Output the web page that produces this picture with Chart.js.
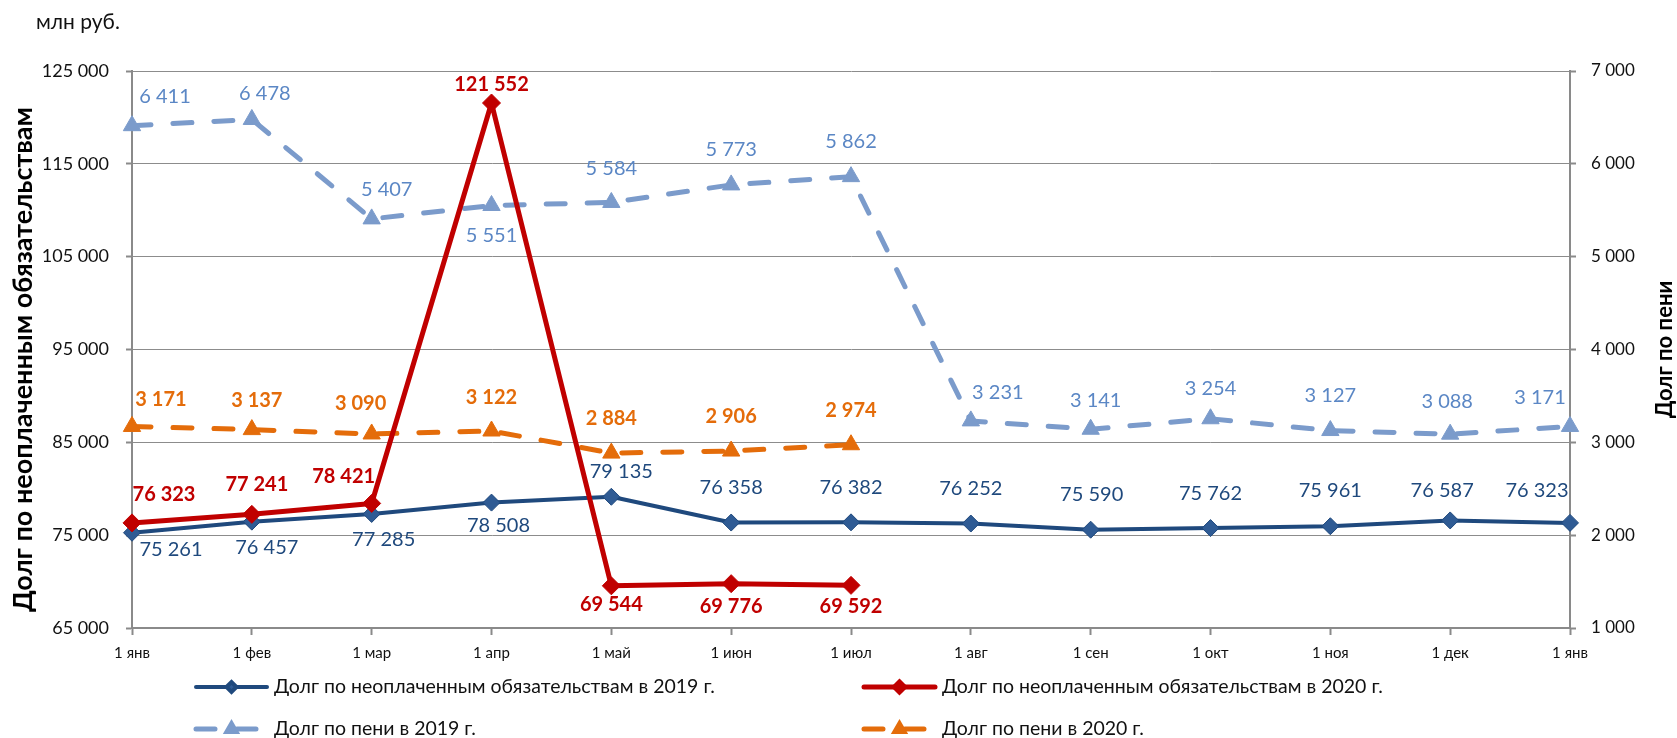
<!DOCTYPE html>
<html lang="ru">
<head>
<meta charset="utf-8">
<title>Долг по неоплаченным обязательствам и пени</title>
<script src="https://cdn.jsdelivr.net/npm/chart.js@4.4.1/dist/chart.umd.min.js"></script>
<style>
  html, body { margin: 0; padding: 0; background: #fff; }
  #wrap { position: relative; width: 1677px; height: 738px; }
  canvas { display: block; }
</style>
</head>
<body>
<div id="wrap"><canvas id="debtChart" width="1677" height="738"></canvas></div>
<script>
/* Долг по неоплаченным обязательствам и пени, 2019–2020 */
const months = ['1 янв', '1 фев', '1 мар', '1 апр', '1 май', '1 июн', '1 июл',
                '1 авг', '1 сен', '1 окт', '1 ноя', '1 дек', '1 янв'];

const debt2019 = [75261, 76457, 77285, 78508, 79135, 76358, 76382, 76252, 75590, 75762, 75961, 76587, 76323];
const debt2020 = [76323, 77241, 78421, 121552, 69544, 69776, 69592];
const peni2019 = [6411, 6478, 5407, 5551, 5584, 5773, 5862, 3231, 3141, 3254, 3127, 3088, 3171];
const peni2020 = [3171, 3137, 3090, 3122, 2884, 2906, 2974];

const leftTicks = [65000, 75000, 85000, 95000, 105000, 115000, 125000];
const rightTicks = [1000, 2000, 3000, 4000, 5000, 6000, 7000];

// label offsets from the point, px (layout only)
const debt2019Lbl = [[39, 17], [15, 26], [12, 26], [7, 23], [10, -25], [0, -35], [0, -35],
                     [0, -35], [1, -35], [0, -35], [0, -36], [-8, -30], [-33, -32]];
const debt2020Lbl = [[32, -28], [5, -30], [-28, -27], [0, -18], [0, 19], [0, 23], [0, 21]];
const peni2019Lbl = [[33, -29], [13, -26], [15, -29], [0, 30], [0, -34], [0, -35], [0, -35],
                     [27, -28], [5, -29], [0, -30], [0, -35], [-3, -33], [-30, -29]];
const peni2020Lbl = [[29, -27], [5, -29], [-11, -30], [0, -33], [0, -35], [0, -35], [0, -34]];

const fmt = v => String(v).replace(/\B(?=(\d{3})+(?!\d))/g, ' ');
const FONT = 'Lato, "Open Sans", sans-serif';

// ── data labels ──────────────────────────────────────────────
const pointLabels = {
  id: 'pointLabels',
  afterDatasetsDraw(chart) {
    const ctx = chart.ctx;
    chart.data.datasets.forEach((ds, di) => {
      const meta = chart.getDatasetMeta(di);
      ctx.save();
      ctx.font = (ds.labelBold ? 'bold ' : '') + '20px ' + FONT;
      ctx.fillStyle = ds.labelColor;
      ctx.textAlign = 'center';
      ctx.textBaseline = 'middle';
      meta.data.forEach((pt, i) => {
        const off = ds.labelOffsets[i] || [0, -30];
        ctx.fillText(fmt(ds.data[i]), pt.x + off[0], pt.y + off[1]);
      });
      ctx.restore();
    });
  }
};

// ── two-column legend + axis titles ──────────────────────────
const legendSlots = [
  { index: 0, x: 196, y: 687 },
  { index: 1, x: 864, y: 687 },
  { index: 2, x: 196, y: 729 },
  { index: 3, x: 864, y: 729 },
];

const extras = {
  id: 'extras',
  afterDraw(chart) {
    const ctx = chart.ctx;
    const area = chart.chartArea;

    legendSlots.forEach(slot => {
      const ds = chart.data.datasets[slot.index];
      ctx.save();
      ctx.strokeStyle = ds.borderColor;
      ctx.lineWidth = ds.borderWidth;
      ctx.lineCap = 'round';
      ctx.setLineDash(ds.borderDash || []);
      ctx.beginPath();
      ctx.moveTo(slot.x, slot.y);
      ctx.lineTo(slot.x + 71, slot.y);
      ctx.stroke();
      ctx.setLineDash([]);
      ctx.fillStyle = ds.pointBackgroundColor;
      ctx.strokeStyle = ds.pointBorderColor;
      Chart.helpers.drawPoint(ctx, { pointStyle: ds.pointStyle, radius: 5, borderWidth: 1, rotation: 0 },
        slot.x + 35.5, slot.y);
      ctx.font = '19.5px ' + FONT;
      ctx.fillStyle = '#111';
      ctx.textBaseline = 'middle';
      ctx.textAlign = 'left';
      ctx.fillText(ds.label, slot.x + 78, slot.y);
      ctx.restore();
    });

    ctx.save();
    ctx.fillStyle = '#000';
    ctx.textAlign = 'center';
    ctx.textBaseline = 'middle';
    ctx.font = 'bold 27px ' + FONT;
    ctx.translate(23, (area.top + area.bottom) / 2 + 10);
    ctx.rotate(-Math.PI / 2);
    ctx.fillText('Долг по неоплаченным обязательствам', 0, 0);
    ctx.restore();

    ctx.save();
    ctx.fillStyle = '#000';
    ctx.textAlign = 'center';
    ctx.textBaseline = 'middle';
    ctx.font = 'bold 22px ' + FONT;
    ctx.translate(1665, (area.top + area.bottom) / 2);
    ctx.rotate(-Math.PI / 2);
    ctx.fillText('Долг по пени', 0, 0);
    ctx.restore();

    ctx.save();
    ctx.fillStyle = '#111';
    ctx.font = '21px ' + FONT;
    ctx.textBaseline = 'middle';
    ctx.fillText('млн руб.', 36, 22);
    ctx.restore();
  }
};

const axisGray = '#8a8a8a';

new Chart(document.getElementById('debtChart'), {
  type: 'line',
  data: {
    labels: months,
    datasets: [
      {
        label: 'Долг по неоплаченным обязательствам в 2019 г.',
        data: debt2019,
        yAxisID: 'y',
        borderColor: '#1f497d',
        borderWidth: 4,
        pointStyle: 'rectRot',
        pointRadius: 8.5,
        pointBackgroundColor: '#2f5b94',
        pointBorderColor: '#1f497d',
        pointBorderWidth: 1,
        order: 1,
        labelColor: '#1f497d',
        labelOffsets: debt2019Lbl,
      },
      {
        label: 'Долг по неоплаченным обязательствам в 2020 г.',
        data: debt2020,
        yAxisID: 'y',
        borderColor: '#c00000',
        borderWidth: 5,
        pointStyle: 'rectRot',
        pointRadius: 9,
        pointBackgroundColor: '#c00000',
        pointBorderColor: '#c00000',
        pointBorderWidth: 1,
        order: 0,
        labelColor: '#c00000',
        labelBold: true,
        labelOffsets: debt2020Lbl,
      },
      {
        label: 'Долг по пени в 2019 г.',
        data: peni2019,
        yAxisID: 'y1',
        borderColor: '#7b9bcb',
        borderWidth: 5,
        borderDash: [19, 22],
        borderCapStyle: 'round',
        pointStyle: 'triangle',
        pointRadius: 10,
        pointBackgroundColor: '#7b9bcb',
        pointBorderColor: '#7b9bcb',
        pointBorderWidth: 1,
        order: 3,
        labelColor: '#5b87c5',
        labelOffsets: peni2019Lbl,
      },
      {
        label: 'Долг по пени в 2020 г.',
        data: peni2020,
        yAxisID: 'y1',
        borderColor: '#e46c0a',
        borderWidth: 5,
        borderDash: [19, 22],
        borderCapStyle: 'round',
        pointStyle: 'triangle',
        pointRadius: 10,
        pointBackgroundColor: '#e46c0a',
        pointBorderColor: '#e46c0a',
        pointBorderWidth: 1,
        order: 2,
        labelColor: '#e46c0a',
        labelBold: true,
        labelOffsets: peni2020Lbl,
      },
    ],
  },
  options: {
    responsive: false,
    devicePixelRatio: 1,
    animation: false,
    events: [],
    layout: { padding: { top: 71, left: 0, right: 0, bottom: 0 } },
    datasets: { line: { tension: 0, clip: false, borderJoinStyle: 'round' } },
    plugins: { legend: { display: false }, tooltip: { enabled: false } },
    scales: {
      x: {
        type: 'category',
        offset: false,
        grid: { drawOnChartArea: false, drawTicks: true, tickLength: 7, tickColor: axisGray, tickWidth: 2 },
        border: { color: axisGray, width: 2 },
        ticks: { autoSkip: false, maxRotation: 0, padding: 9, color: '#111', font: { family: FONT, size: 15 } },
        afterFit: s => { s.height = 110; },
      },
      y: {
        position: 'left',
        min: leftTicks[0],
        max: leftTicks[leftTicks.length - 1],
        afterBuildTicks: s => { s.ticks = leftTicks.map(v => ({ value: v })); },
        grid: { color: '#8c8c8c', lineWidth: 1, borderDash: [2, 2], tickLength: 6,
                tickColor: axisGray, tickWidth: 2, tickBorderDash: [] },
        border: { color: axisGray, width: 2 },
        ticks: { padding: 17, color: '#111', font: { family: FONT, size: 18 }, callback: v => fmt(v) },
        afterFit: s => { s.width = 132; },
      },
      y1: {
        position: 'right',
        min: rightTicks[0],
        max: rightTicks[rightTicks.length - 1],
        afterBuildTicks: s => { s.ticks = rightTicks.map(v => ({ value: v })); },
        grid: { drawOnChartArea: false, tickLength: 6, tickColor: axisGray, tickWidth: 2 },
        border: { color: axisGray, width: 2 },
        ticks: { padding: 15, color: '#111', font: { family: FONT, size: 17 }, callback: v => fmt(v) },
        afterFit: s => { s.width = 107; },
      },
    },
  },
  plugins: [pointLabels, extras],
});
</script>
</body>
</html>
